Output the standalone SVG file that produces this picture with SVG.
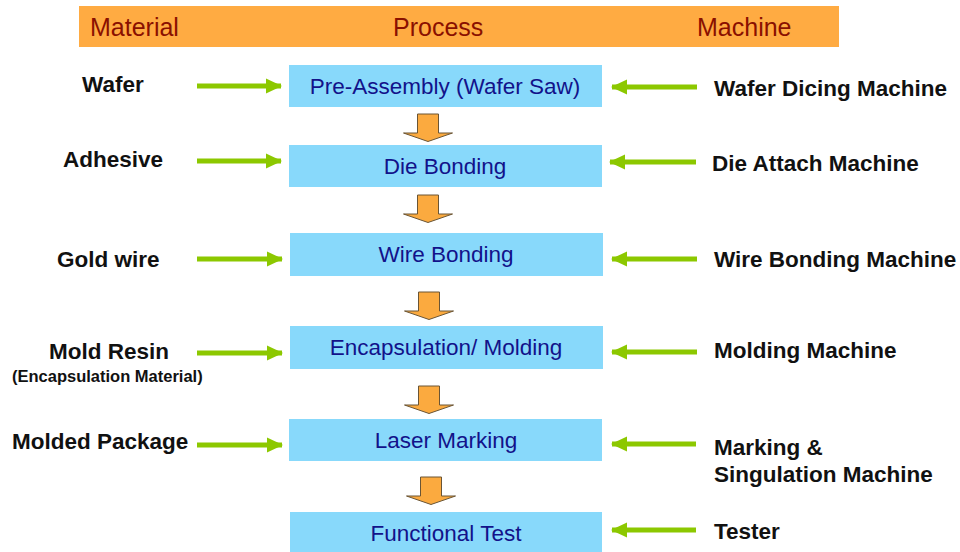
<svg xmlns="http://www.w3.org/2000/svg" width="960" height="552" viewBox="0 0 960 552">
  <defs>
    <style>
      .hdr { font-family: "Liberation Sans", Arial, sans-serif; font-size: 25px; fill: #8a1000; }
      .box { fill: #88d9fb; }
      .step { font-family: "Liberation Sans", Arial, sans-serif; font-size: 22.5px; fill: #12128a; text-anchor: middle; }
      .lbl { font-family: "Liberation Sans", Arial, sans-serif; font-size: 22.5px; font-weight: bold; fill: #111; }
      .sub { font-family: "Liberation Sans", Arial, sans-serif; font-size: 16.5px; font-weight: bold; fill: #111; }
      .feed { stroke: #8cc800; stroke-width: 5; fill: none; marker-end: url(#greenHead); }
      .flow { fill: #fbaa3f; stroke: #6a5535; stroke-width: 1; stroke-linejoin: miter; }
    </style>
    <marker id="greenHead" markerUnits="userSpaceOnUse" markerWidth="16" markerHeight="16" viewBox="0 0 16 16" refX="15" refY="8" orient="auto">
      <polygon points="0,0.5 16,8 0,15.5" fill="#8cc800"/>
    </marker>
    <!-- orange down arrow, origin at top-centre of shaft -->
    <polygon id="downArrow" class="flow" points="-10.5,0 10.5,0 10.5,19 24.5,19 0,27.5 -24.5,19 -10.5,19"/>
  </defs>

  <!-- column header band -->
  <g id="header">
    <rect x="79" y="6" width="760" height="41" fill="#ffab42"/>
    <text class="hdr" x="90" y="36">Material</text>
    <text class="hdr" x="393" y="36">Process</text>
    <text class="hdr" x="697" y="36">Machine</text>
  </g>

  <!-- process steps -->
  <g id="step-preassembly">
    <rect class="box" x="289" y="65" width="313" height="42"/>
    <text class="step" x="445" y="94">Pre-Assembly (Wafer Saw)</text>
  </g>
  <g id="step-diebond">
    <rect class="box" x="289" y="145" width="313" height="42"/>
    <text class="step" x="445" y="174">Die Bonding</text>
  </g>
  <g id="step-wirebond">
    <rect class="box" x="290" y="233" width="313" height="43"/>
    <text class="step" x="446" y="262">Wire Bonding</text>
  </g>
  <g id="step-molding">
    <rect class="box" x="290" y="326" width="313" height="43"/>
    <text class="step" x="446" y="355">Encapsulation/ Molding</text>
  </g>
  <g id="step-marking">
    <rect class="box" x="289" y="419" width="313" height="42"/>
    <text class="step" x="446" y="448">Laser Marking</text>
  </g>
  <g id="step-test">
    <rect class="box" x="290" y="512" width="312" height="42"/>
    <text class="step" x="446" y="541">Functional Test</text>
  </g>

  <!-- material inputs -->
  <g id="mat-wafer"><text class="lbl" x="82" y="92">Wafer</text></g>
  <g id="mat-adhesive"><text class="lbl" x="63" y="167">Adhesive</text></g>
  <g id="mat-goldwire"><text class="lbl" x="57" y="267">Gold wire</text></g>
  <g id="mat-resin">
    <text class="lbl" x="49" y="359">Mold Resin</text>
    <text class="sub" x="12" y="382">(Encapsulation Material)</text>
  </g>
  <g id="mat-package"><text class="lbl" x="12" y="449">Molded Package</text></g>

  <!-- machines -->
  <g id="mc-dicing"><text class="lbl" x="714" y="96">Wafer Dicing Machine</text></g>
  <g id="mc-attach"><text class="lbl" x="712" y="171">Die Attach Machine</text></g>
  <g id="mc-wirebond"><text class="lbl" x="714" y="267">Wire Bonding Machine</text></g>
  <g id="mc-molding"><text class="lbl" x="714" y="358">Molding Machine</text></g>
  <g id="mc-marking">
    <text class="lbl" x="714" y="455">Marking &amp;</text>
    <text class="lbl" x="714" y="482">Singulation Machine</text>
  </g>
  <g id="mc-tester"><text class="lbl" x="714" y="539">Tester</text></g>

  <!-- connectors -->
  <g id="connectors">
    <!-- material feeds -->
    <line class="feed" x1="197" y1="86" x2="281" y2="86"/>
    <line class="feed" x1="197" y1="161" x2="281" y2="161"/>
    <line class="feed" x1="197" y1="259" x2="282" y2="259"/>
    <line class="feed" x1="197" y1="353" x2="282" y2="353"/>
    <line class="feed" x1="197" y1="445" x2="282" y2="445"/>
    <!-- machine feeds -->
    <line class="feed" x1="697" y1="87" x2="612" y2="87"/>
    <line class="feed" x1="696" y1="162" x2="610" y2="162"/>
    <line class="feed" x1="697" y1="259" x2="612" y2="259"/>
    <line class="feed" x1="697" y1="352" x2="612" y2="352"/>
    <line class="feed" x1="696" y1="444" x2="612" y2="444"/>
    <line class="feed" x1="696" y1="530" x2="612" y2="530"/>
    <!-- process flow -->
    <use href="#downArrow" x="428" y="114"/>
    <use href="#downArrow" x="428" y="195"/>
    <use href="#downArrow" x="429" y="292"/>
    <use href="#downArrow" x="429" y="386"/>
    <use href="#downArrow" x="431" y="477"/>
  </g>
</svg>
